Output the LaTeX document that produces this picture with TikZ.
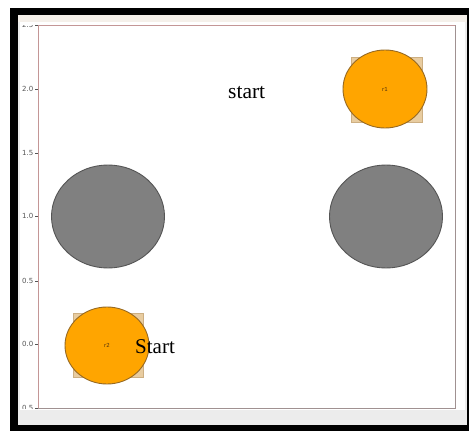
\documentclass[tikz,border=0pt]{standalone}
\usepackage{fontspec}
\setmainfont{Liberation Serif}
\newfontfamily\tickfont{DejaVu Sans}
\usetikzlibrary{shapes.geometric}
\definecolor{spine}{RGB}{196,150,150}
\definecolor{spinegrey}{RGB}{160,145,145}
\definecolor{orangefill}{RGB}{255,165,0}
\definecolor{orangeedge}{RGB}{150,105,35}
\definecolor{tanfill}{RGB}{232,204,160}
\definecolor{tanedge}{RGB}{205,175,130}
\definecolor{obsfill}{RGB}{128,128,128}
\definecolor{obsedge}{RGB}{85,85,85}
\definecolor{topstrip}{RGB}{245,240,234}
\definecolor{botstrip}{RGB}{236,236,236}
\definecolor{ticktext}{RGB}{85,85,85}
\tikzset{
  obstacle/.style={ellipse, draw=obsedge, fill=obsfill, line width=0.9pt, inner sep=0pt, minimum width=113pt, minimum height=103pt},
  robot/.style={ellipse, draw=orangeedge, fill=orangefill, line width=0.9pt, inner sep=0pt, minimum width=84pt, minimum height=78pt, font=\tickfont\fontsize{5.5}{6}\selectfont, text={rgb,255:red,80;green,50;blue,15}},
  footprint/.style={rectangle, draw=tanedge, fill=tanfill, line width=0.6pt, inner sep=0pt, minimum width=71pt, minimum height=65pt},
  ticklab/.style={anchor=east, inner sep=0pt, font=\tickfont\fontsize{7}{8}\selectfont, text=ticktext},
  bigtext/.style={anchor=base west, inner sep=0pt, font=\fontsize{21.5}{24}\selectfont}
}
\begin{document}
\begin{tikzpicture}[x=1pt,y=-1pt]
\useasboundingbox (0,0) rectangle (469,431);
\fill[white] (0,0) rectangle (469,431);
% window frame
\fill[black] (10,8) rectangle (469,431);
\fill[botstrip] (18,15) rectangle (467,425);
\fill[topstrip] (18,15) rectangle (467,22);
\fill[white] (20,22) rectangle (465,410);
% tick labels (clipped by window)
\begin{scope}
\clip (20,25) rectangle (465,408);
\foreach \yy/\lab in {25/2.5, 89/2.0, 153/1.5, 216/1.0, 281/0.5, 344/0.0, 408/0.5} {
  \coordinate (t\yy) at (38,\yy);
  \draw[ticktext, line width=0.5pt] (t\yy) -- ++(-3.5,0) coordinate (tl\yy);
  \node[ticklab] at ([xshift=-1pt]tl\yy) {\lab};
}
\end{scope}
% obstacles
\node[obstacle] (o1) at (108,216.5) {};
\node[obstacle] (o2) at (386,216.5) {};
% robots
\node[footprint] (sq1) at (386.5,89.5) {};
\node[robot] (r1) at (385,89) {r1};
\node[footprint, minimum width=70pt, minimum height=64pt] (sq2) at (108,345) {};
\node[robot, minimum height=77pt] (r2) at (107,345.5) {r2};
% texts
\node[bigtext] (s1) at (228,98) {start};
\node[bigtext, font=\fontsize{21}{24}\selectfont] (s2) at (135,353) {Start};
% spines
\draw[spine, line width=0.9pt] (38,408) -- (38,25) -- (455,25);
\draw[spinegrey, line width=0.9pt] (455,25) -- (455,408) -- (38,408);
\end{tikzpicture}
\end{document}
